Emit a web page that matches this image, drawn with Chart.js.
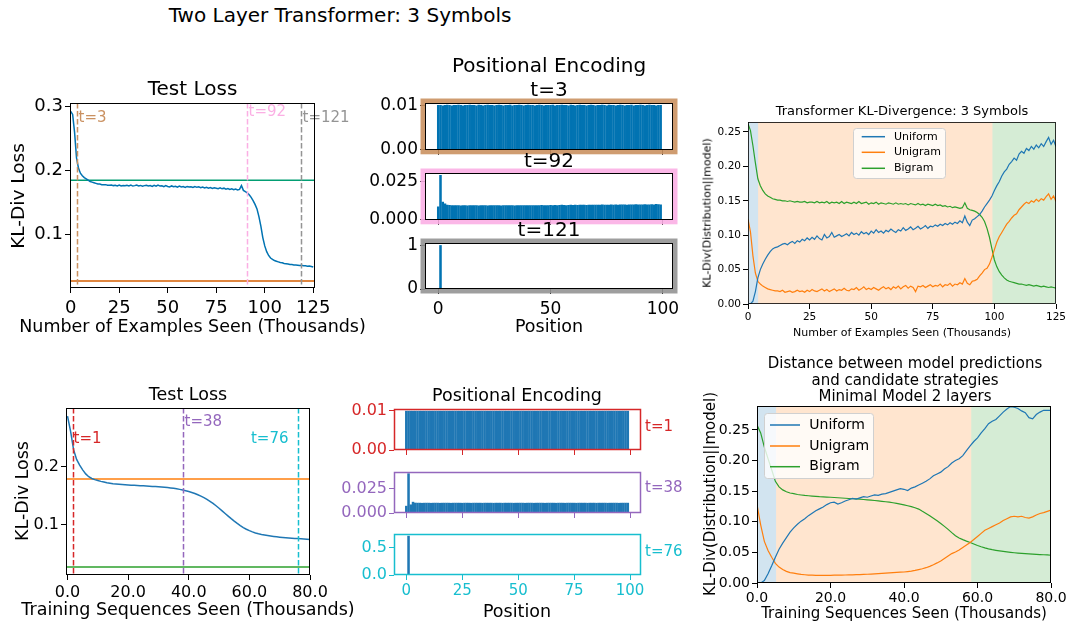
<!DOCTYPE html>
<html>
<head>
<meta charset="utf-8">
<script src="https://cdn.jsdelivr.net/npm/chart.js@4.4.1/dist/chart.umd.min.js"></script>
<style>
  body { margin: 0; background: #fff; }
  #fig { position: relative; width: 1068px; height: 625px; overflow: hidden; font-family: "DejaVu Sans", sans-serif; }
  .box { position: absolute; }
  .txt { position: absolute; transform: translate(-50%, -50%); white-space: nowrap; line-height: 1; color: #000; }
  .txt.rot { transform: translate(-50%, -50%) rotate(-90deg); }
  .txt.lft { transform: translate(0, -50%); }
</style>
</head>
<body>
<div id="fig"></div>
<script>
// ---- top row: two layer transformer, 3 symbols ----
const topSteps = Array.from({ length: 126 }, (_, i) => i)
const topXTicks = [0, 25, 50, 75, 100, 125]
const topTestLoss = [
  0.293, 0.288, 0.260, 0.220, 0.204, 0.196, 0.192, 0.189, 0.187, 0.185,
  0.183, 0.182, 0.181, 0.180, 0.179, 0.179, 0.178, 0.178, 0.178, 0.177,
  0.177, 0.1775, 0.1765, 0.177, 0.176, 0.1775, 0.176, 0.1768, 0.1762, 0.177,
  0.176, 0.1772, 0.1758, 0.1765, 0.1775, 0.176, 0.1768, 0.1755, 0.1765, 0.177,
  0.1758, 0.1766, 0.1752, 0.1768, 0.1755, 0.1772, 0.1758, 0.1762, 0.1748, 0.1765,
  0.1752, 0.1745, 0.176, 0.1748, 0.1755, 0.1742, 0.1758, 0.1745, 0.175, 0.1738,
  0.1752, 0.1742, 0.1748, 0.1735, 0.175, 0.1738, 0.1745, 0.1732, 0.1742, 0.1728,
  0.1738, 0.1725, 0.1735, 0.1722, 0.173, 0.1725, 0.1718, 0.173, 0.1715, 0.1725,
  0.171, 0.172, 0.1705, 0.1715, 0.170, 0.1712, 0.1698, 0.1705, 0.1765, 0.169,
  0.167, 0.165, 0.162, 0.158, 0.153, 0.147, 0.140, 0.128, 0.113, 0.095,
  0.082, 0.073, 0.067, 0.063, 0.061, 0.059, 0.058, 0.057, 0.056, 0.0555,
  0.0545, 0.054, 0.0535, 0.053, 0.0528, 0.0522, 0.052, 0.0518, 0.0512, 0.0515,
  0.051, 0.0508, 0.0502, 0.0506, 0.0498, 0.049,
]
const topUnigramLoss = 0.185
const topBigramLoss = 0.027
const topMarkers = [3.2, 90.8, 118.7]
const topMarkerLabels = ["t=3", "t=92", "t=121"]

const topUniform = [
  0.000, 0.000, 0.004, 0.018, 0.038, 0.050, 0.058, 0.065, 0.071, 0.076,
  0.080, 0.082, 0.083, 0.085, 0.087, 0.088, 0.086, 0.089, 0.091, 0.088,
  0.092, 0.090, 0.094, 0.092, 0.096, 0.093, 0.097, 0.094, 0.099, 0.095,
  0.093, 0.101, 0.096, 0.098, 0.104, 0.097, 0.099, 0.101, 0.098, 0.100,
  0.102, 0.099, 0.104, 0.101, 0.103, 0.100, 0.105, 0.102, 0.104, 0.101,
  0.106, 0.103, 0.108, 0.104, 0.106, 0.103, 0.107, 0.105, 0.109, 0.106,
  0.104, 0.108, 0.106, 0.111, 0.107, 0.109, 0.112, 0.108, 0.110, 0.113,
  0.109, 0.111, 0.114, 0.110, 0.113, 0.112, 0.115, 0.113, 0.116, 0.114,
  0.117, 0.115, 0.118, 0.116, 0.119, 0.117, 0.121, 0.118, 0.128, 0.119,
  0.114, 0.122, 0.124, 0.127, 0.130, 0.135, 0.141, 0.146, 0.151, 0.157,
  0.165, 0.172, 0.178, 0.186, 0.192, 0.196, 0.203, 0.207, 0.212, 0.209,
  0.218, 0.222, 0.219, 0.226, 0.223, 0.229, 0.225, 0.231, 0.227, 0.233,
  0.229, 0.236, 0.242, 0.232, 0.238, 0.229,
]
const topUnigram = [
  0.123, 0.105, 0.070, 0.045, 0.033, 0.029, 0.026, 0.024, 0.022, 0.021,
  0.020, 0.019, 0.019, 0.018, 0.020, 0.017, 0.018, 0.019, 0.017, 0.018,
  0.020, 0.018, 0.019, 0.017, 0.020, 0.018, 0.021, 0.019, 0.018, 0.020,
  0.022, 0.019, 0.021, 0.018, 0.020, 0.022, 0.019, 0.021, 0.020, 0.023,
  0.020, 0.019, 0.022, 0.021, 0.024, 0.020, 0.022, 0.025, 0.021, 0.023,
  0.021, 0.024, 0.022, 0.020, 0.023, 0.025, 0.022, 0.024, 0.021, 0.025,
  0.023, 0.026, 0.022, 0.025, 0.027, 0.023, 0.026, 0.024, 0.018, 0.026,
  0.025, 0.027, 0.024, 0.026, 0.028, 0.025, 0.027, 0.026, 0.029, 0.025,
  0.028, 0.027, 0.030, 0.026, 0.029, 0.028, 0.031, 0.029, 0.037, 0.030,
  0.028, 0.033, 0.034, 0.036, 0.041, 0.045, 0.050, 0.052, 0.058, 0.068,
  0.079, 0.090, 0.098, 0.104, 0.110, 0.116, 0.120, 0.125, 0.129, 0.131,
  0.137, 0.141, 0.145, 0.148, 0.146, 0.150, 0.148, 0.152, 0.149, 0.153,
  0.151, 0.156, 0.160, 0.152, 0.157, 0.149,
]
const topBigram = [
  0.262, 0.252, 0.230, 0.205, 0.182, 0.172, 0.165, 0.160, 0.157, 0.155,
  0.153, 0.152, 0.151, 0.151, 0.150, 0.150, 0.149, 0.150, 0.149, 0.148,
  0.149, 0.148, 0.148, 0.149, 0.147, 0.148, 0.148, 0.147, 0.149, 0.147,
  0.148, 0.147, 0.149, 0.146, 0.148, 0.147, 0.148, 0.146, 0.149, 0.146,
  0.148, 0.147, 0.146, 0.148, 0.146, 0.149, 0.146, 0.147, 0.148, 0.145,
  0.147, 0.146, 0.148, 0.145, 0.147, 0.146, 0.145, 0.147, 0.146, 0.145,
  0.147, 0.145, 0.146, 0.145, 0.146, 0.144, 0.146, 0.145, 0.144, 0.146,
  0.144, 0.145, 0.143, 0.145, 0.144, 0.143, 0.145, 0.143, 0.144, 0.142,
  0.143, 0.141, 0.142, 0.140, 0.141, 0.140, 0.139, 0.140, 0.147, 0.139,
  0.137, 0.136, 0.135, 0.133, 0.130, 0.126, 0.120, 0.110, 0.097, 0.080,
  0.064, 0.054, 0.047, 0.042, 0.038, 0.035, 0.033, 0.032, 0.031, 0.030,
  0.029, 0.029, 0.028, 0.027, 0.028, 0.027, 0.026, 0.027, 0.026, 0.025,
  0.026, 0.025, 0.024, 0.025, 0.024, 0.023,
]
const topPhaseEdges = [0, 4.1, 99.2, 125]

// positional encoding weights, positions 0..99
const positions = Array.from({ length: 100 }, (_, i) => i)
const peTopT3 = [
  0.0100, 0.0100, 0.0099, 0.0100, 0.0101, 0.0100, 0.0099, 0.0100, 0.0100, 0.0101,
  0.0100, 0.0099, 0.0100, 0.0100, 0.0101, 0.0100, 0.0100, 0.0099, 0.0101, 0.0100,
  0.0099, 0.0100, 0.0101, 0.0100, 0.0100, 0.0099, 0.0100, 0.0101, 0.0100, 0.0099,
  0.0100, 0.0100, 0.0101, 0.0099, 0.0100, 0.0100, 0.0101, 0.0100, 0.0099, 0.0100,
  0.0101, 0.0100, 0.0100, 0.0099, 0.0100, 0.0101, 0.0100, 0.0099, 0.0100, 0.0100,
  0.0100, 0.0101, 0.0099, 0.0100, 0.0100, 0.0101, 0.0100, 0.0100, 0.0099, 0.0101,
  0.0100, 0.0099, 0.0100, 0.0101, 0.0100, 0.0100, 0.0099, 0.0100, 0.0101, 0.0100,
  0.0099, 0.0100, 0.0100, 0.0101, 0.0100, 0.0099, 0.0101, 0.0100, 0.0100, 0.0099,
  0.0100, 0.0101, 0.0100, 0.0099, 0.0100, 0.0100, 0.0101, 0.0099, 0.0100, 0.0100,
  0.0101, 0.0100, 0.0099, 0.0100, 0.0101, 0.0100, 0.0100, 0.0099, 0.0100, 0.0100,
]
const peTopT92 = [
  0.0087, 0.0293, 0.0118, 0.0106, 0.0098, 0.0096, 0.0095, 0.0094, 0.0095, 0.0094,
  0.0093, 0.0094, 0.0095, 0.0093, 0.0094, 0.0094, 0.0095, 0.0094, 0.0093, 0.0094,
  0.0095, 0.0094, 0.0093, 0.0094, 0.0094, 0.0095, 0.0094, 0.0094, 0.0093, 0.0095,
  0.0094, 0.0094, 0.0095, 0.0094, 0.0093, 0.0094, 0.0095, 0.0094, 0.0094, 0.0095,
  0.0094, 0.0095, 0.0094, 0.0094, 0.0095, 0.0094, 0.0096, 0.0095, 0.0094, 0.0095,
  0.0096, 0.0095, 0.0096, 0.0095, 0.0096, 0.0097, 0.0096, 0.0095, 0.0096, 0.0097,
  0.0096, 0.0097, 0.0096, 0.0097, 0.0098, 0.0097, 0.0096, 0.0097, 0.0098, 0.0097,
  0.0098, 0.0097, 0.0098, 0.0099, 0.0098, 0.0097, 0.0098, 0.0099, 0.0098, 0.0099,
  0.0098, 0.0099, 0.0100, 0.0099, 0.0098, 0.0099, 0.0100, 0.0099, 0.0101, 0.0100,
  0.0099, 0.0100, 0.0101, 0.0100, 0.0099, 0.0101, 0.0100, 0.0102, 0.0101, 0.0099,
]
const peTopT121 = [
  0, 0.998, 0, 0, 0, 0, 0, 0, 0, 0, 0, 0, 0, 0, 0, 0, 0, 0, 0, 0,
  0, 0, 0, 0, 0, 0, 0, 0, 0, 0, 0, 0, 0, 0, 0, 0, 0, 0, 0, 0,
  0, 0, 0, 0, 0, 0, 0, 0, 0, 0, 0, 0, 0, 0, 0, 0, 0, 0, 0, 0,
  0, 0, 0, 0, 0, 0, 0, 0, 0, 0, 0, 0, 0, 0, 0, 0, 0, 0, 0, 0,
  0, 0, 0, 0, 0, 0, 0, 0, 0, 0, 0, 0, 0, 0, 0, 0, 0, 0, 0, 0,
]

// ---- bottom row: minimal model, 2 layers ----
const botSteps = Array.from({ length: 81 }, (_, i) => i)
const botXTicks = [0, 20, 40, 60, 80]
const botTestLoss = [
  0.288, 0.262, 0.230, 0.213, 0.203, 0.195, 0.188, 0.183, 0.180, 0.178,
  0.1765, 0.175, 0.1738, 0.1727, 0.1718, 0.171, 0.1704, 0.1699, 0.1695, 0.1691,
  0.1688, 0.1685, 0.1682, 0.1679, 0.1676, 0.1673, 0.167, 0.1667, 0.1663, 0.166,
  0.1656, 0.1652, 0.1648, 0.1643, 0.1637, 0.163, 0.1622, 0.1612, 0.160, 0.1588,
  0.1574, 0.1558, 0.154, 0.1518, 0.1494, 0.1468, 0.1438, 0.1405, 0.1368, 0.1328,
  0.1285, 0.124, 0.1195, 0.115, 0.1105, 0.1062, 0.1022, 0.0985, 0.0951, 0.0922,
  0.0897, 0.0876, 0.0858, 0.0843, 0.0831, 0.0821, 0.0812, 0.0804, 0.0797, 0.0791,
  0.0785, 0.078, 0.0775, 0.0771, 0.0767, 0.0763, 0.076, 0.0756, 0.0753, 0.0749,
  0.0745,
]
const botUnigramLoss = 0.179
const botBigramLoss = 0.027
const botMarkers = [1.8, 38.0, 75.9]
const botMarkerLabels = ["t=1", "t=38", "t=76"]

const botUniform = [
  0.000, 0.000, 0.004, 0.015, 0.028, 0.042, 0.055, 0.065, 0.074, 0.083,
  0.090, 0.096, 0.101, 0.105, 0.110, 0.114, 0.118, 0.121, 0.124, 0.128,
  0.131, 0.132, 0.129, 0.131, 0.134, 0.136, 0.138, 0.137, 0.139, 0.141,
  0.140, 0.142, 0.144, 0.143, 0.145, 0.146, 0.148, 0.150, 0.152, 0.154,
  0.153, 0.151, 0.155, 0.157, 0.160, 0.163, 0.166, 0.170, 0.175, 0.178,
  0.181, 0.186, 0.190, 0.196, 0.200, 0.203, 0.208, 0.216, 0.224, 0.231,
  0.237, 0.245, 0.252, 0.260, 0.264, 0.267, 0.273, 0.279, 0.284, 0.288,
  0.287, 0.285, 0.281, 0.278, 0.270, 0.268, 0.275, 0.279, 0.282, 0.282,
  0.282,
]
const botUnigram = [
  0.128, 0.095, 0.068, 0.053, 0.042, 0.032, 0.026, 0.022, 0.019, 0.017,
  0.016, 0.015, 0.014, 0.0135, 0.013, 0.0128, 0.0126, 0.0125, 0.0125, 0.0125,
  0.0126, 0.0127, 0.0128, 0.013, 0.0131, 0.0133, 0.0134, 0.0136, 0.0138, 0.014,
  0.0143, 0.0146, 0.0149, 0.0152, 0.0156, 0.016, 0.0164, 0.0168, 0.0172, 0.0176,
  0.018, 0.0187, 0.0195, 0.0205, 0.0218, 0.0232, 0.025, 0.0272, 0.0298, 0.0328,
  0.036, 0.040, 0.044, 0.048, 0.0505, 0.054, 0.058, 0.062, 0.066, 0.071,
  0.076, 0.081, 0.086, 0.089, 0.092, 0.095, 0.098, 0.102, 0.105, 0.108,
  0.109, 0.108, 0.109, 0.107, 0.106, 0.108, 0.111, 0.1135, 0.115, 0.117,
  0.119,
]
const botBigram = [
  0.258, 0.245, 0.222, 0.203, 0.185, 0.166, 0.157, 0.152, 0.149, 0.147,
  0.146, 0.1445, 0.1437, 0.143, 0.1425, 0.142, 0.1415, 0.141, 0.1407, 0.1403,
  0.140, 0.1396, 0.1392, 0.1388, 0.1384, 0.138, 0.1376, 0.1372, 0.1368, 0.1363,
  0.1358, 0.1353, 0.1347, 0.1341, 0.1334, 0.1327, 0.1319, 0.131, 0.130, 0.1289,
  0.1276, 0.1262, 0.1246, 0.1228, 0.1207, 0.117, 0.1135, 0.1098, 0.1058, 0.1015,
  0.097, 0.0925, 0.0875, 0.0822, 0.0772, 0.0735, 0.0708, 0.0684, 0.0662, 0.0637,
  0.0613, 0.0592, 0.0574, 0.0558, 0.0545, 0.0534, 0.0524, 0.0515, 0.0507, 0.050,
  0.0494, 0.0488, 0.0483, 0.0479, 0.0475, 0.0471, 0.0467, 0.0464, 0.0461, 0.0458,
  0.0453,
]
const botPhaseEdges = [0, 5.2, 58.3, 80]

const peBotT1 = [
  0.01, 0.01, 0.01, 0.01, 0.01, 0.01, 0.01, 0.01, 0.01, 0.01, 0.01, 0.01, 0.01, 0.01, 0.01, 0.01, 0.01, 0.01, 0.01, 0.01,
  0.01, 0.01, 0.01, 0.01, 0.01, 0.01, 0.01, 0.01, 0.01, 0.01, 0.01, 0.01, 0.01, 0.01, 0.01, 0.01, 0.01, 0.01, 0.01, 0.01,
  0.01, 0.01, 0.01, 0.01, 0.01, 0.01, 0.01, 0.01, 0.01, 0.01, 0.01, 0.01, 0.01, 0.01, 0.01, 0.01, 0.01, 0.01, 0.01, 0.01,
  0.01, 0.01, 0.01, 0.01, 0.01, 0.01, 0.01, 0.01, 0.01, 0.01, 0.01, 0.01, 0.01, 0.01, 0.01, 0.01, 0.01, 0.01, 0.01, 0.01,
  0.01, 0.01, 0.01, 0.01, 0.01, 0.01, 0.01, 0.01, 0.01, 0.01, 0.01, 0.01, 0.01, 0.01, 0.01, 0.01, 0.01, 0.01, 0.01, 0.01,
]
const peBotT38 = [
  0.0072, 0.0405, 0.0086, 0.0113, 0.0104, 0.0103, 0.0103, 0.0102, 0.0103, 0.0103,
  0.0103, 0.0102, 0.0103, 0.0103, 0.0103, 0.0102, 0.0103, 0.0103, 0.0103, 0.0103,
  0.0102, 0.0103, 0.0103, 0.0103, 0.0103, 0.0102, 0.0103, 0.0103, 0.0103, 0.0102,
  0.0103, 0.0103, 0.0103, 0.0103, 0.0102, 0.0103, 0.0103, 0.0103, 0.0103, 0.0102,
  0.0103, 0.0103, 0.0103, 0.0102, 0.0103, 0.0103, 0.0103, 0.0103, 0.0102, 0.0103,
  0.0103, 0.0103, 0.0103, 0.0102, 0.0103, 0.0103, 0.0103, 0.0102, 0.0103, 0.0103,
  0.0103, 0.0103, 0.0102, 0.0103, 0.0103, 0.0103, 0.0103, 0.0102, 0.0103, 0.0103,
  0.0103, 0.0102, 0.0103, 0.0103, 0.0103, 0.0103, 0.0102, 0.0103, 0.0103, 0.0103,
  0.0103, 0.0102, 0.0103, 0.0103, 0.0103, 0.0102, 0.0103, 0.0103, 0.0103, 0.0103,
  0.0102, 0.0103, 0.0103, 0.0103, 0.0103, 0.0102, 0.0103, 0.0103, 0.0103, 0.0103,
]
const peBotT76 = [
  0.003, 0.715, 0.004, 0.003, 0.003, 0.003, 0.003, 0.003, 0.003, 0.003, 0.003, 0.003, 0.003, 0.003, 0.003, 0.003, 0.003, 0.003, 0.003, 0.003,
  0.003, 0.003, 0.003, 0.003, 0.003, 0.003, 0.003, 0.003, 0.003, 0.003, 0.003, 0.003, 0.003, 0.003, 0.003, 0.003, 0.003, 0.003, 0.003, 0.003,
  0.003, 0.003, 0.003, 0.003, 0.003, 0.003, 0.003, 0.003, 0.003, 0.003, 0.003, 0.003, 0.003, 0.003, 0.003, 0.003, 0.003, 0.003, 0.003, 0.003,
  0.003, 0.003, 0.003, 0.003, 0.003, 0.003, 0.003, 0.003, 0.003, 0.003, 0.003, 0.003, 0.003, 0.003, 0.003, 0.003, 0.003, 0.003, 0.003, 0.003,
  0.003, 0.003, 0.003, 0.003, 0.003, 0.003, 0.003, 0.003, 0.003, 0.003, 0.003, 0.003, 0.003, 0.003, 0.003, 0.003, 0.003, 0.003, 0.003, 0.003,
]
const peXTicks = [0, 50, 100]
const peBotXTicks = [0, 25, 50, 75, 100]

// ---------------------------------------------------------------
Chart.defaults.font.family = "'DejaVu Sans', sans-serif"
Chart.defaults.color = "#000"
Chart.defaults.elements.point.radius = 0
Chart.defaults.animation = false
Chart.defaults.plugins.legend.display = false
Chart.defaults.plugins.tooltip.enabled = false

const fig = document.getElementById("fig")
const fmt0 = v => v.toFixed(0)
const fmt1 = v => v.toFixed(1)
const fmt2 = v => v.toFixed(2)
const fmt3 = v => v.toFixed(3)
const blank = () => ""

const pts = (xs, ys) => ys.map((y, i) => ({ x: xs[i], y }))
const flat = (x0, x1, y) => [{ x: x0, y }, { x: x1, y }]

function axis(min, max, ticks, fmt, o = {}) {
  return {
    type: "linear", min, max, offset: false,
    afterBuildTicks: s => { s.ticks = ticks.map(v => ({ value: v })) },
    ticks: { callback: v => fmt(v), font: { size: o.size || 14 }, color: o.color || "#000", padding: o.pad ?? 3, autoSkip: false, maxRotation: 0 },
    grid: { drawOnChartArea: false, offset: false, color: o.tickColor || o.color || "#000", tickLength: 5, tickWidth: 1 },
    border: { display: false },
  }
}

function spansFrom(edges, colors) {
  return colors.map((c, i) => ({ from: edges[i], to: edges[i + 1], color: c }))
}

// spans, dashed markers, frame and legend drawn straight on the canvas
function deco(o) {
  return {
    id: "deco",
    beforeDatasetsDraw(chart) {
      const { ctx, chartArea: a, scales: { x } } = chart
      for (const s of o.spans || []) {
        const x0 = x.getPixelForValue(s.from), x1 = x.getPixelForValue(s.to)
        ctx.fillStyle = s.color
        ctx.fillRect(x0, a.top, x1 - x0, a.bottom - a.top)
      }
    },
    afterDatasetsDraw(chart) {
      const { ctx, chartArea: a, scales: { x } } = chart
      ctx.save()
      for (const m of o.markers || []) {
        const px = Math.round(x.getPixelForValue(m.value)) + 0.5
        ctx.strokeStyle = m.color
        ctx.lineWidth = 1.5
        ctx.setLineDash([5.5, 2.5])
        ctx.beginPath(); ctx.moveTo(px, a.top); ctx.lineTo(px, a.bottom); ctx.stroke()
        ctx.setLineDash([])
        ctx.fillStyle = m.color
        ctx.font = `${m.size}px 'DejaVu Sans'`
        ctx.textBaseline = "middle"
        ctx.textAlign = m.align || "left"
        ctx.fillText(m.text, px + m.dx, a.top + m.dy)
      }
      const w = a.right - a.left, h = a.bottom - a.top
      if (o.outer) {
        ctx.strokeStyle = o.outer
        ctx.lineWidth = 5
        ctx.strokeRect(a.left - 2, a.top - 2, w + 4, h + 4)
      }
      ctx.strokeStyle = o.frame || "#000"
      ctx.lineWidth = o.frameWidth || 1
      ctx.strokeRect(Math.round(a.left) + 0.5, Math.round(a.top) + 0.5, Math.round(w) - 1, Math.round(h) - 1)
      if (o.legend) {
        const L = o.legend
        ctx.fillStyle = "rgba(255,255,255,0.8)"
        ctx.strokeStyle = "#d0d0d0"
        ctx.lineWidth = 1
        ctx.beginPath()
        ctx.roundRect(a.left + L.x + 0.5, a.top + L.y + 0.5, L.w, L.h, 3)
        ctx.fill(); ctx.stroke()
        ctx.font = `${L.size}px 'DejaVu Sans'`
        ctx.textBaseline = "middle"
        ctx.textAlign = "left"
        chart.data.datasets.forEach((d, i) => {
          const y = a.top + L.rows[i]
          ctx.strokeStyle = d.borderColor
          ctx.lineWidth = 1.5
          ctx.beginPath(); ctx.moveTo(a.left + L.sample[0], y); ctx.lineTo(a.left + L.sample[1], y); ctx.stroke()
          ctx.fillStyle = "#000"
          ctx.fillText(d.label, a.left + L.textX, y)
        })
      }
      ctx.restore()
    },
  }
}

// area = plot rectangle in page pixels, pad = room for [left axis, top, right, bottom axis]
function addChart(area, pad, config) {
  const [l, t, r, b] = area
  const [pl, pt, pr, pb] = pad
  const W = r - l + pl + pr, H = b - t + pt + pb
  const div = document.createElement("div")
  div.className = "box"
  div.style.left = (l - pl) + "px"
  div.style.top = (t - pt) + "px"
  const cv = document.createElement("canvas")
  cv.width = W; cv.height = H
  cv.style.width = W + "px"; cv.style.height = H + "px"
  div.appendChild(cv)
  fig.appendChild(div)
  const opt = config.options
  opt.responsive = false
  opt.maintainAspectRatio = false
  opt.layout = { padding: { left: 0, top: pt, right: pr, bottom: 0 } }
  opt.scales.x.afterFit = s => { s.height = pb }
  opt.scales.y.afterFit = s => { s.width = pl }
  return new Chart(cv, config)
}

function text(str, x, y, size, o = {}) {
  const d = document.createElement("div")
  d.className = "txt" + (o.rot ? " rot" : "") + (o.left ? " lft" : "")
  d.textContent = str
  d.style.left = x + "px"
  d.style.top = y + "px"
  d.style.fontSize = size + "px"
  if (o.color) d.style.color = o.color
  fig.appendChild(d)
}

// ---- top left: test loss ----
const topMarkerColors = ["#CA9161", "#FBAFE4", "#949494"]
addChart([70, 103, 315, 288], [70, 20, 45, 30], {
  type: "line",
  data: {
    datasets: [
      { data: pts(topSteps, topTestLoss), borderColor: "#0173B2", borderWidth: 1.5 },
      { data: flat(-1, 127, topUnigramLoss), borderColor: "#029E73", borderWidth: 1.5 },
      { data: flat(-1, 127, topBigramLoss), borderColor: "#D55E00", borderWidth: 1.5 },
    ],
  },
  options: {
    scales: {
      x: axis(-0.36, 125.9, topXTicks, fmt0, { size: 18, pad: 5 }),
      y: axis(0.016, 0.306, [0.1, 0.2, 0.3], fmt1, { size: 18, pad: 2 }),
    },
  },
  plugins: [deco({
    markers: topMarkers.map((v, i) => ({
      value: v, text: topMarkerLabels[i], color: topMarkerColors[i],
      dx: 1, dy: [15.3, 8.7, 15.3][i], size: 15,
    })),
  })],
})

// ---- top middle: positional encoding ----
function peChart(area, pb, values, o) {
  return addChart(area, [80, 14, 20, pb], {
    type: "bar",
    data: {
      datasets: [{
        data: pts(positions, values), backgroundColor: o.bar, borderWidth: 0,
        categoryPercentage: 1, barPercentage: 1, inflateAmount: 0.15,
      }],
    },
    options: {
      scales: {
        x: axis(o.xMin, o.xMax, o.xTicks, o.showX ? fmt0 : blank, { size: o.xSize, pad: o.xPad, color: o.tickColor }),
        y: axis(0, o.yMax, o.yTicks, o.fmt, { size: o.ySize, pad: 2, color: o.tickColor }),
      },
    },
    plugins: [deco({ outer: o.outer, frame: o.frame, frameWidth: o.frameWidth })],
  })
}
const topPe = { bar: "#0173B2", xMin: -5.9, xMax: 104.5, xTicks: peXTicks, xSize: 17, xPad: 5, ySize: 17, frame: "#000" }
peChart([425, 103, 673, 150], 12, peTopT3, { ...topPe, yMax: 0.0105, yTicks: [0, 0.01], fmt: fmt2, outer: "rgba(202,145,97,0.9)" })
peChart([425, 173, 673, 220], 12, peTopT92, { ...topPe, yMax: 0.0307, yTicks: [0, 0.025], fmt: fmt3, outer: "rgba(251,175,228,0.9)" })
peChart([425, 243, 673, 289], 30, peTopT121, { ...topPe, showX: true, yMax: 1.05, yTicks: [0, 1], fmt: fmt0, outer: "rgba(148,148,148,0.9)" })

// ---- top right: KL divergence to strategies ----
const phaseColors = ["rgba(31,119,180,0.2)", "rgba(255,127,14,0.2)", "rgba(44,160,44,0.2)"]
const klTicks = [0, 0.05, 0.1, 0.15, 0.2, 0.25]
addChart([748, 122, 1056, 304], [60, 15, 20, 35], {
  type: "line",
  data: {
    datasets: [
      { label: "Uniform", data: pts(topSteps, topUniform), borderColor: "#1f77b4", borderWidth: 1.2 },
      { label: "Unigram", data: pts(topSteps, topUnigram), borderColor: "#ff7f0e", borderWidth: 1.2 },
      { label: "Bigram", data: pts(topSteps, topBigram), borderColor: "#2ca02c", borderWidth: 1.2 },
    ],
  },
  options: {
    scales: {
      x: axis(0, 125, topXTicks, fmt0, { size: 10.5, pad: 2 }),
      y: axis(0, 0.2645, klTicks, fmt2, { size: 10.5, pad: 2 }),
    },
  },
  plugins: [deco({
    spans: spansFrom(topPhaseEdges, phaseColors), frameWidth: 0.8,
    legend: { x: 105, y: 6, w: 92, h: 50, rows: [14.7, 30.3, 46.3], sample: [113.7, 137], textX: 146, size: 11 },
  })],
})

// ---- bottom left: test loss ----
const botMarkerColors = ["#d62728", "#9467bd", "#17becf"]
addChart([66, 408, 310, 575], [66, 15, 25, 30], {
  type: "line",
  data: {
    datasets: [
      { data: pts(botSteps, botTestLoss), borderColor: "#1f77b4", borderWidth: 1.5 },
      { data: flat(-1, 81, botUnigramLoss), borderColor: "#ff7f0e", borderWidth: 1.5 },
      { data: flat(-1, 81, botBigramLoss), borderColor: "#2ca02c", borderWidth: 1.5 },
    ],
  },
  options: {
    scales: {
      x: axis(-0.5, 80, botXTicks, fmt1, { size: 16, pad: 3 }),
      y: axis(0.013, 0.302, [0.1, 0.2], fmt1, { size: 16, pad: 2 }),
    },
  },
  plugins: [deco({
    markers: botMarkers.map((v, i) => ({
      value: v, text: botMarkerLabels[i], color: botMarkerColors[i],
      dx: [0, 1, -10][i], dy: [31.3, 13.7, 31.3][i], align: i === 2 ? "right" : "left", size: 15,
    })),
  })],
})

// ---- bottom middle: positional encoding ----
const botPe = { bar: "#1f77b4", xMin: -5.5, xMax: 104.9, xTicks: peBotXTicks, xSize: 15, xPad: 2, ySize: 16, frameWidth: 1.5 }
peChart([394, 409, 641, 450], 12, peBotT1, { ...botPe, yMax: 0.0105, yTicks: [0, 0.01], fmt: fmt2, frame: "#d62728", tickColor: "#d62728" })
peChart([394, 472, 641, 513], 12, peBotT38, { ...botPe, yMax: 0.042, yTicks: [0, 0.025], fmt: fmt3, frame: "#9467bd", tickColor: "#9467bd" })
peChart([394, 534, 641, 575], 30, peBotT76, { ...botPe, showX: true, yMax: 0.75, yTicks: [0, 0.5], fmt: fmt1, frame: "#17becf", tickColor: "#17becf" })

// ---- bottom right: distance to candidate strategies ----
addChart([757, 406, 1051, 583], [60, 15, 20, 35], {
  type: "line",
  data: {
    datasets: [
      { label: "Uniform", data: pts(botSteps, botUniform), borderColor: "#1f77b4", borderWidth: 1.2 },
      { label: "Unigram", data: pts(botSteps, botUnigram), borderColor: "#ff7f0e", borderWidth: 1.2 },
      { label: "Bigram", data: pts(botSteps, botBigram), borderColor: "#2ca02c", borderWidth: 1.2 },
    ],
  },
  options: {
    scales: {
      x: axis(0, 80, botXTicks, fmt1, { size: 14, pad: 2 }),
      y: axis(0, 0.289, klTicks, fmt2, { size: 14, pad: 2 }),
    },
  },
  plugins: [deco({
    spans: spansFrom(botPhaseEdges, phaseColors),
    legend: { x: 7, y: 7, w: 109, h: 65, rows: [19, 40, 60.7], sample: [13, 43], textX: 52.3, size: 14 },
  })],
})

// ---- titles and axis labels ----
text("Two Layer Transformer: 3 Symbols", 340, 15, 20)

text("Test Loss", 192.5, 88, 20)
text("Number of Examples Seen (Thousands)", 192.5, 327, 17.5)
text("KL-Div Loss", 18, 196, 18.5, { rot: true })

text("Positional Encoding", 549, 65, 20)
text("t=3", 549, 89, 20)
text("t=92", 549, 160, 20)
text("t=121", 549, 229, 20)
text("Position", 549, 327, 17.5)

text("Transformer KL-Divergence: 3 Symbols", 902, 110, 13)
text("Number of Examples Seen (Thousands)", 902, 332, 11)
text("KL-Div(Distribution||model)", 707, 213, 11, { rot: true })

text("Test Loss", 188, 395, 17.5)
text("Training Sequences Seen (Thousands)", 188, 610, 17.5)
text("KL-Div Loss", 23, 491, 17.5, { rot: true })

text("Positional Encoding", 517, 396, 17.5)
text("t=1", 645, 426, 15, { left: true, color: "#d62728" })
text("t=38", 645, 487, 15, { left: true, color: "#9467bd" })
text("t=76", 645, 551, 15, { left: true, color: "#17becf" })
text("Position", 517, 612, 17.5)

text("Distance between model predictions", 905, 363, 15)
text("and candidate strategies", 905, 379.5, 15)
text("Minimal Model 2 layers", 905, 396, 15)
text("Training Sequences Seen (Thousands)", 904, 613, 15)
text("KL-Div(Distribution||model)", 710, 494, 15, { rot: true })
</script>
</body>
</html>
